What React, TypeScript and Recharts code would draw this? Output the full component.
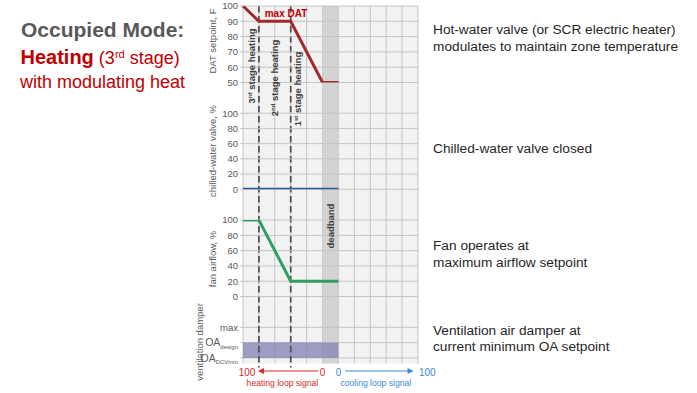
import React from 'react';
import {
  ComposedChart,
  Line,
  Area,
  XAxis,
  YAxis,
  CartesianGrid,
  ReferenceArea,
  ReferenceLine,
  ReferenceDot,
} from 'recharts';

// ---------- data ----------
// Horizontal axis in "columns": 0 = heating loop 100 %, 5 = heating loop 0 %,
// 5–6 = deadband, 6 = cooling loop 0 %, 11 = cooling loop 100 %
const xDomain = [0, 11];
const gridColumns = [1, 2, 3, 4, 5, 6, 7, 8, 9, 10];
const xPoints = [0, 1, 3, 5, 6];
const datSetpoint = [100, 90, 90, 50, 50];
const chwValve = [0, 0, 0, 0, 0];
const fanAirflow = [100, 100, 20, 20, 20];
const ventPoints = [0, 6];
const ventBand = [0, 1]; // OA_DCVmin .. OA_design
const stageBoundaries = [1, 3];
const deadband = [5, 6];

const datTicks = [50, 60, 70, 80, 90, 100];
const pctTicks = [0, 20, 40, 60, 80, 100];
const ventTicks = [0, 1, 2];
const ventTickLabels = [
  ['OA', 'DCVmin'],
  ['OA', 'design'],
  ['max', ''],
];
const loopTicks = [0, 2.48, 5, 6, 8.35, 11];
const loopTickLabels = ['100', 'heating loop signal', '0', '0', 'cooling loop signal', '100'];
const heatingArrow = [4.72, 0.94];
const coolingArrow = [6.42, 10.72];
const arrowLevel = -0.021;

// ---------- style / geometry ----------
const W = 697;
const H = 393;
const FONT = "'Liberation Sans', Arial, Helvetica, sans-serif";
const PLOT_L = 243;
const PLOT_R = 418;
const BG_TOP = 6;
const BG_BOTTOM = 363.5;
const YW = 40;
const GRID = '#c4c4c4';
const AXIS_TXT = '#595959';
const RED = '#d42a2a';
const BLUE = '#3a8ad2';

const toRows = (xs: number[], ys: any[]) => xs.map((x, i) => ({ x, v: ys[i] }));

const layer: React.CSSProperties = { position: 'absolute', left: 0, top: 0 };

function Panel({ top, bottom, data, domain, ticks, tick, children }: any) {
  return (
    <div style={layer}>
      <ComposedChart
        width={W}
        height={H}
        data={data}
        margin={{ top, bottom: H - bottom, left: PLOT_L - YW, right: W - PLOT_R }}
      >
        <CartesianGrid vertical={false} stroke={GRID} />
        <XAxis type="number" dataKey="x" domain={xDomain} hide />
        <YAxis
          type="number"
          domain={domain}
          ticks={ticks}
          interval={0}
          width={YW}
          axisLine={false}
          tickLine={{ stroke: GRID }}
          tickSize={3}
          tickMargin={2}
          tick={tick ?? { fontSize: 9.5, fill: AXIS_TXT }}
          allowDataOverflow
        />
        {children}
      </ComposedChart>
    </div>
  );
}

const VentTick = (props: any) => {
  const { x, y, payload } = props;
  const idx = ventTicks.indexOf(payload.value);
  const [main, sub] = ventTickLabels[idx] ?? ['', ''];
  return (
    <text x={x} y={y} dy="0.355em" textAnchor="end" fontSize={sub ? 10.5 : 9.5} fill={AXIS_TXT}>
      <tspan>{main}</tspan>
      {sub ? (
        <tspan fontSize={6} dy={2.5}>
          {sub}
        </tspan>
      ) : null}
    </text>
  );
};

const LoopTick = (props: any) => {
  const { x, y, payload } = props;
  const idx = loopTicks.indexOf(payload.value);
  const label = loopTickLabels[idx];
  const heating = idx <= 2;
  const color = heating ? RED : BLUE;
  if (idx === 1 || idx === 4) {
    return (
      <text x={x} y={y + 22} textAnchor="middle" fontSize={8.6} fill={color}>
        {label}
      </text>
    );
  }
  let anchor: 'middle' | 'start' = 'middle';
  let dx = 0;
  if (idx === 0) dx = 4;
  if (idx === 5) {
    anchor = 'start';
    dx = 1;
  }
  return (
    <text x={x + dx} y={y + 12} textAnchor={anchor} fontSize={10} fill={color}>
      {label}
    </text>
  );
};

const ArrowHead = (dir: number, color: string) => (p: any) => {
  const { cx, cy } = p;
  if (cx == null || cy == null) return <g />;
  const L = 6;
  const h = 3;
  const pts = `${cx},${cy} ${cx - dir * L},${cy - h} ${cx - dir * L},${cy + h}`;
  return <polygon points={pts} fill={color} />;
};

const VText = ({ cx, cy, size = 9.5, color = '#404040', bold = false, children }: any) => (
  <div
    style={{
      position: 'absolute',
      left: cx,
      top: cy,
      transform: 'translate(-50%, -50%) rotate(-90deg)',
      whiteSpace: 'nowrap',
      fontSize: size,
      lineHeight: 1,
      color,
      fontWeight: bold ? 700 : 400,
    }}
  >
    {children}
  </div>
);

const Sup = ({ children }: any) => (
  <span style={{ fontSize: '0.62em', position: 'relative', top: '-0.55em' }}>{children}</span>
);

const descStyle: React.CSSProperties = {
  position: 'absolute',
  left: 433,
  fontSize: 13.7,
  lineHeight: '16.8px',
  color: '#262626',
  whiteSpace: 'nowrap',
};

const Invisible = () => (
  <Line
    type="linear"
    dataKey="v"
    stroke="none"
    strokeWidth={0}
    dot={false}
    activeDot={false}
    legendType="none"
    isAnimationActive={false}
  />
);

export default function App() {
  const edgeData = [
    { x: xDomain[0], v: 0.5 },
    { x: xDomain[1], v: 0.5 },
  ];
  return (
    <div
      style={{
        position: 'absolute',
        left: 0,
        top: 0,
        width: W,
        height: H,
        background: '#ffffff',
        fontFamily: FONT,
        overflow: 'hidden',
      }}
    >
      {/* background, vertical grid, deadband */}
      <div style={layer}>
        <ComposedChart
          width={W}
          height={H}
          data={edgeData}
          margin={{ top: BG_TOP, bottom: H - BG_BOTTOM, left: PLOT_L, right: W - PLOT_R }}
        >
          <CartesianGrid horizontal={false} fill="#f2f2f2" fillOpacity={1} stroke={GRID} />
          <XAxis type="number" dataKey="x" domain={xDomain} ticks={gridColumns} interval={0} hide />
          <YAxis type="number" domain={[0, 1]} hide />
          {Invisible()}
          <ReferenceArea
            x1={deadband[0]}
            x2={deadband[1]}
            y1={0}
            y2={1}
            fill="#d3d3d3"
            fillOpacity={1}
            stroke="none"
          />
        </ComposedChart>
      </div>

      {/* ventilation damper band */}
      <Panel
        top={327.3}
        bottom={357.9}
        data={ventPoints.map((x) => ({ x, v: ventBand }))}
        domain={[0, 2]}
        ticks={ventTicks}
        tick={<VentTick />}
      >
        <Area
          type="linear"
          dataKey="v"
          stroke="none"
          fill="rgb(130,130,180)"
          fillOpacity={0.76}
          isAnimationActive={false}
        />
      </Panel>

      {/* stage boundaries, loop signal axis, arrows */}
      <div style={layer}>
        <ComposedChart
          width={W}
          height={H}
          data={edgeData}
          margin={{ top: BG_TOP, bottom: H - BG_BOTTOM - 20, left: PLOT_L, right: W - PLOT_R }}
        >
          <XAxis
            type="number"
            dataKey="x"
            domain={xDomain}
            ticks={loopTicks}
            interval={0}
            height={20}
            axisLine={false}
            tickLine={false}
            tickSize={0}
            tickMargin={0}
            tick={<LoopTick />}
          />
          <YAxis type="number" domain={[0, 1]} hide />
          {Invisible()}
          {stageBoundaries.map((b) => (
            <ReferenceLine
              key={b}
              segment={[
                { x: b, y: 1 },
                { x: b, y: -0.011 },
              ]}
              stroke="#4d4d4d"
              strokeWidth={1.7}
              strokeDasharray="6.5 3.5"
              ifOverflow="visible"
            />
          ))}
          <ReferenceLine
            segment={[
              { x: heatingArrow[0], y: arrowLevel },
              { x: heatingArrow[1] + 0.3, y: arrowLevel },
            ]}
            stroke={RED}
            strokeWidth={1}
            ifOverflow="visible"
          />
          <ReferenceDot
            x={heatingArrow[1]}
            y={arrowLevel}
            ifOverflow="visible"
            shape={ArrowHead(-1, RED)}
          />
          <ReferenceLine
            segment={[
              { x: coolingArrow[0], y: arrowLevel },
              { x: coolingArrow[1] - 0.3, y: arrowLevel },
            ]}
            stroke={BLUE}
            strokeWidth={1}
            ifOverflow="visible"
          />
          <ReferenceDot
            x={coolingArrow[1]}
            y={arrowLevel}
            ifOverflow="visible"
            shape={ArrowHead(1, BLUE)}
          />
        </ComposedChart>
      </div>

      {/* DAT setpoint */}
      <Panel top={6} bottom={82.5} data={toRows(xPoints, datSetpoint)} domain={[50, 100]} ticks={datTicks}>
        <Line
          type="linear"
          dataKey="v"
          stroke="#a12a2e"
          strokeWidth={3}
          dot={false}
          isAnimationActive={false}
        />
      </Panel>

      {/* chilled-water valve */}
      <Panel top={113.2} bottom={189.3} data={toRows(xPoints, chwValve)} domain={[0, 100]} ticks={pctTicks}>
        <Line
          type="linear"
          dataKey="v"
          stroke="#2c5a8c"
          strokeWidth={3}
          dot={false}
          isAnimationActive={false}
        />
      </Panel>

      {/* fan airflow */}
      <Panel top={220.1} bottom={296.5} data={toRows(xPoints, fanAirflow)} domain={[0, 100]} ticks={pctTicks}>
        <Line
          type="linear"
          dataKey="v"
          stroke="#2f9e5e"
          strokeWidth={3}
          dot={false}
          isAnimationActive={false}
        />
      </Panel>

      {/* axis titles */}
      <VText cx={213} cy={41} color={AXIS_TXT}>DAT setpoint, F</VText>
      <VText cx={213} cy={151} color={AXIS_TXT}>chilled-water valve, %</VText>
      <VText cx={213} cy={259} color={AXIS_TXT}>fan airflow, %</VText>
      <VText cx={200} cy={342} color={AXIS_TXT}>ventilation damper</VText>

      {/* stage labels */}
      <VText cx={251.5} cy={65.5} bold>
        3<Sup>rd</Sup> stage heating
      </VText>
      <VText cx={274.5} cy={78} bold>
        2<Sup>nd</Sup> stage heating
      </VText>
      <VText cx={298} cy={89} bold>
        1<Sup>st</Sup> stage heating
      </VText>
      <VText cx={330.5} cy={226} bold>
        deadband
      </VText>

      <div
        style={{
          position: 'absolute',
          left: 286,
          top: 9,
          transform: 'translateX(-50%)',
          fontSize: 10,
          lineHeight: 1,
          fontWeight: 700,
          color: '#c00000',
          whiteSpace: 'nowrap',
        }}
      >
        max DAT
      </div>

      {/* left title */}
      <div
        style={{
          position: 'absolute',
          left: 21,
          top: 18.9,
          fontSize: 21,
          lineHeight: 1,
          fontWeight: 700,
          color: '#595959',
          whiteSpace: 'nowrap',
        }}
      >
        Occupied Mode:
      </div>
      <div
        style={{
          position: 'absolute',
          left: 20.5,
          top: 47.4,
          fontSize: 20,
          lineHeight: 1,
          color: '#c00000',
          whiteSpace: 'nowrap',
        }}
      >
        <span style={{ fontWeight: 700 }}>Heating</span>
        <span style={{ fontSize: 18 }}>
          {' '}(3<Sup>rd</Sup> stage)
        </span>
      </div>
      <div
        style={{
          position: 'absolute',
          left: 20,
          top: 72.8,
          fontSize: 18,
          lineHeight: 1,
          color: '#c00000',
          whiteSpace: 'nowrap',
        }}
      >
        with modulating heat
      </div>

      {/* right descriptions */}
      <div style={{ ...descStyle, top: 22.2 }}>
        Hot-water valve (or SCR electric heater)
        <br />
        modulates to maintain zone temperature
      </div>
      <div style={{ ...descStyle, top: 140.7 }}>Chilled-water valve closed</div>
      <div style={{ ...descStyle, top: 238.4 }}>
        Fan operates at
        <br />
        maximum airflow setpoint
      </div>
      <div style={{ ...descStyle, top: 322.7 }}>
        Ventilation air damper at
        <br />
        current minimum OA setpoint
      </div>
    </div>
  );
}
